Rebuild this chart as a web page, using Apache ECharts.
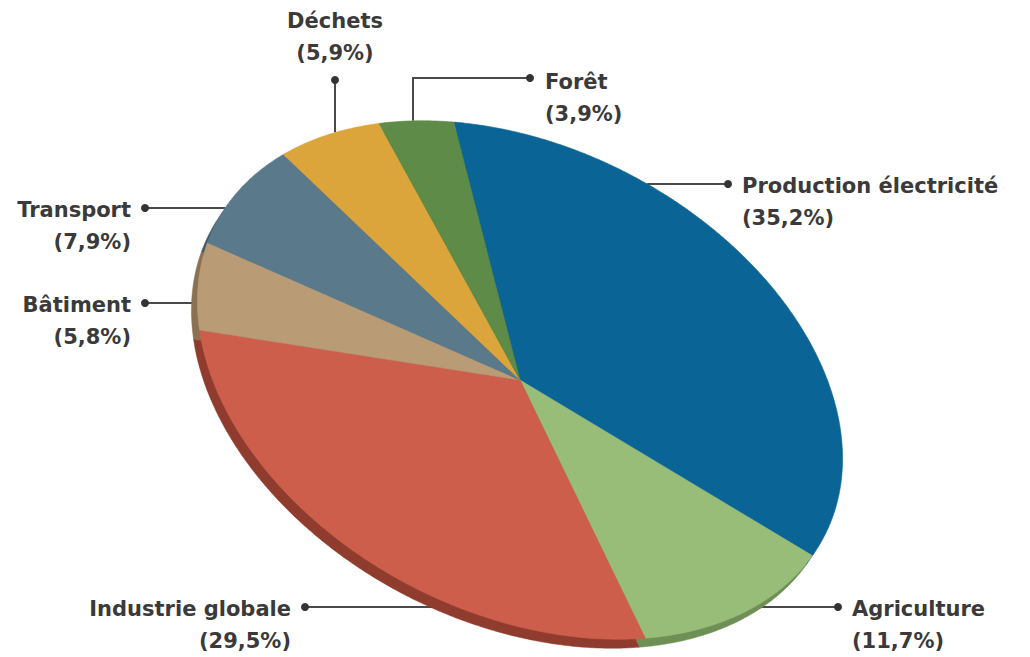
<!DOCTYPE html>
<html>
<head>
<meta charset="utf-8">
<script src="https://cdn.jsdelivr.net/npm/echarts@6/dist/echarts.min.js"></script>
<style>
html,body{margin:0;padding:0;background:#fff;}
#chart{width:1030px;height:657px;}
</style>
</head>
<body>
<div id="chart"></div>
<script>
// ---- Data ----
const categories = ['Production électricité', 'Agriculture', 'Industrie globale', 'Bâtiment', 'Transport', 'Déchets', 'Forêt'];
const shares = [35.2, 11.7, 29.5, 5.8, 7.9, 5.9, 3.9];

// ---- Styles / layout (not data) ----
const topColors = ['#0a6496', '#98bd79', '#cd5e4b', '#b99b76', '#5a7a8c', '#dba53b', '#5e8b47'];
const rimColors = ['#064a70', '#6e8f55', '#8f3b2d', '#8a7152', '#415a68', '#a57a28', '#446733'];
const geo = { cx: 520, cy: 380, a: 342, b: 233, tilt: 27, start: 239, depthX: -6, depthY: 9 };
// label anchor (dot) positions and text placement
const labelLayout = [
  { dot: [728, 184], text: [742, 186], align: 'left', line: 'h' },
  { dot: [838, 607], text: [852, 609], align: 'left', line: 'h' },
  { dot: [305, 607], text: [291, 609], align: 'right', line: 'h' },
  { dot: [145, 303], text: [131, 305], align: 'right', line: 'h' },
  { dot: [145, 208], text: [131, 210], align: 'right', line: 'h' },
  { dot: [335, 80], text: [335, 21], align: 'center', line: 'v' },
  { dot: [530, 78], text: [545, 82], align: 'left', line: 'elbow', elbowX: 413 }
];
const FONT = 'bold 21px "DejaVu Sans", sans-serif';

const total = shares.reduce((s, v) => s + v, 0);
const RAD = Math.PI / 180;

function ellPoint(tDeg, ox, oy) {
  const t = tDeg * RAD, p = geo.tilt * RAD;
  const xl = geo.a * Math.cos(t), yl = geo.b * Math.sin(t);
  return [geo.cx + ox + xl * Math.cos(p) - yl * Math.sin(p),
          geo.cy + oy + xl * Math.sin(p) + yl * Math.cos(p)];
}
function sectorPoints(t1, t2, ox, oy) {
  const pts = [[geo.cx + ox, geo.cy + oy]];
  const n = Math.max(2, Math.ceil((t2 - t1) / 0.5));
  for (let k = 0; k <= n; k++) pts.push(ellPoint(t1 + (t2 - t1) * k / n, ox, oy));
  return pts;
}
// intersection of horizontal line y=Y (or vertical x=X) with top ellipse, nearest to the given point
function hitEllipse(px, py, dir) {
  const p = geo.tilt * RAD, c = Math.cos(p), s = Math.sin(p);
  const A2 = geo.a * geo.a, B2 = geo.b * geo.b;
  if (dir === 'h') {
    const Y = py - geo.cy;
    const qa = c * c / A2 + s * s / B2, qb = 2 * Y * (c * s / A2 - s * c / B2), qc = Y * Y * (s * s / A2 + c * c / B2) - 1;
    const d = Math.sqrt(Math.max(0, qb * qb - 4 * qa * qc));
    const r1 = (-qb - d) / (2 * qa) + geo.cx, r2 = (-qb + d) / (2 * qa) + geo.cx;
    return [Math.abs(r1 - px) < Math.abs(r2 - px) ? r1 : r2, py];
  } else {
    const X = px - geo.cx;
    const qa = s * s / A2 + c * c / B2, qb = 2 * X * (c * s / A2 - s * c / B2), qc = X * X * (c * c / A2 + s * s / B2) - 1;
    const d = Math.sqrt(Math.max(0, qb * qb - 4 * qa * qc));
    const r1 = (-qb - d) / (2 * qa) + geo.cy, r2 = (-qb + d) / (2 * qa) + geo.cy;
    return [px, Math.abs(r1 - py) < Math.abs(r2 - py) ? r1 : r2];
  }
}

const chart = echarts.init(document.getElementById('chart'), null, { renderer: 'svg' });

function renderItem(params, api) {
  const i = params.dataIndex;
  const val = api.value(1);
  let before = 0;
  for (let k = 0; k < i; k++) before += shares[k];
  const t1 = geo.start + 360 * before / total;
  const t2 = t1 + 360 * val / total;
  const L = labelLayout[i];
  const children = [];

  // leader line
  let linePts;
  if (L.line === 'h') linePts = [L.dot, hitEllipse(L.dot[0], L.dot[1], 'h')];
  else if (L.line === 'v') linePts = [L.dot, hitEllipse(L.dot[0], L.dot[1], 'v')];
  else linePts = [L.dot, [L.elbowX, L.dot[1]], hitEllipse(L.elbowX, L.dot[1], 'v')];
  children.push({ type: 'polyline', z2: 1, shape: { points: linePts }, style: { stroke: '#4a4a4a', lineWidth: 2, fill: null } });

  // depth rim
  children.push({ type: 'polygon', z2: 2, shape: { points: sectorPoints(t1, t2, geo.depthX, geo.depthY) },
    style: { fill: rimColors[i], stroke: rimColors[i], lineWidth: 0.5 } });
  // top face
  children.push({ type: 'polygon', z2: 3, shape: { points: sectorPoints(t1, t2, 0, 0) },
    style: { fill: topColors[i], stroke: topColors[i], lineWidth: 0.6 } });

  // dot
  children.push({ type: 'circle', z2: 5, shape: { cx: L.dot[0], cy: L.dot[1], r: 4 }, style: { fill: '#333' } });
  // label text
  const pct = '(' + val.toFixed(1).replace('.', ',') + '%)';
  children.push({ type: 'text', z2: 5, x: L.text[0], y: L.text[1] - 16,
    style: { text: categories[i] + '\n' + pct, font: FONT, fill: '#3a3a3a', align: L.align, verticalAlign: 'top', lineHeight: 32 } });

  return { type: 'group', children: children };
}

chart.setOption({
  animation: false,
  backgroundColor: '#ffffff',
  series: [{
    type: 'custom',
    coordinateSystem: 'none',
    renderItem: renderItem,
    data: shares.map((v, i) => ({ name: categories[i], value: [i, v] }))
  }]
});
</script>
</body>
</html>
